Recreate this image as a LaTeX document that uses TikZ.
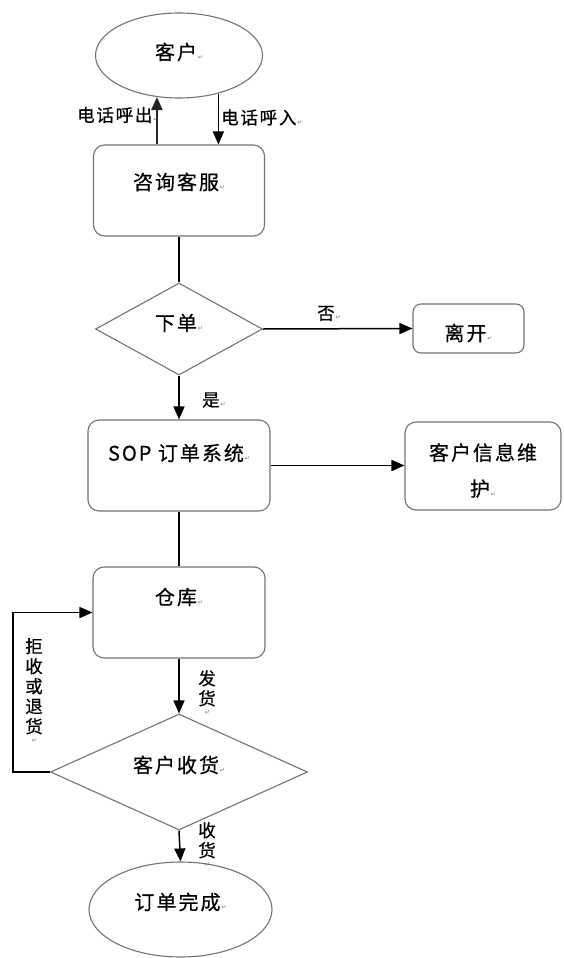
\documentclass[tikz,border=0pt]{standalone}
\usepackage{fontspec}
\setmainfont{Noto Sans CJK SC}[LetterSpace=10,FakeBold=0.5]
\newfontfamily\djv{DejaVu Sans}
\usetikzlibrary{shapes.geometric,arrows.meta,calc}
\newcommand{\pmk}{{\djv\fontsize{6}{6}\selectfont\color{black!55}\,↵}}
\newcommand{\rt}[2]{\raisebox{\dimexpr#1pt-7.6pt\relax}[0pt][0pt]{#2}}
\begin{document}
\begin{tikzpicture}[x=1pt,y=-1pt,
  shp/.style={draw=black!55,line width=1.1pt,inner sep=0pt,font=\fontsize{20}{24}\selectfont},
  ell/.style={shp,ellipse},
  rbox/.style={shp,rectangle,rounded corners=11pt},
  dia/.style={shp,diamond},
  conn/.style={line width=1.5pt,black},
  arr/.style={conn,-{Triangle[length=13pt,width=11pt]}},
  lab/.style={inner sep=0pt,font=\fontsize{17.5}{20}\selectfont},
  vlab/.style={inner sep=0pt,align=center,font=\fontsize{17.5}{20}\selectfont}]
\useasboundingbox (0,0) rectangle (563,958);
\fill[white] (0,0) rectangle (563,958);
% nodes
\node[ell,minimum width=167pt,minimum height=85pt] (c1) at (179,55.5) {\rt{3.5}{客户\pmk}};
\node[rbox,minimum width=171pt,minimum height=91pt] (b1) at (179,190.5) {\rt{8.5}{咨询客服\pmk}};
\node[dia,minimum width=167pt,minimum height=92pt] (d1) at (179,329) {\rt{6}{下单\pmk}};
\node[rbox,rounded corners=8pt,minimum width=111pt,minimum height=49pt] (lv) at (468.5,328.5) {\rt{-4.5}{离开\pmk}};
\node[rbox,minimum width=182pt,minimum height=91pt] (sop) at (179,465.5) {\rt{12.5}{SOP 订单系统\pmk}};
\node[rbox,minimum width=156pt,minimum height=88pt,
  label={[name=infot,inner sep=0pt,align=center,font=\fontsize{20}{36}\selectfont,yshift=-4.5pt]center:客户信息维\\护\pmk}] (info) at (483,466) {};
\node[rbox,minimum width=172pt,minimum height=91pt] (wh) at (179,612.5) {\rt{15.5}{仓库\pmk}};
\node[dia,minimum width=257pt,minimum height=116pt] (d2) at (179,772) {\rt{7}{客户收货\pmk}};
\node[ell,minimum width=183pt,minimum height=95pt] (e2) at (180.5,909.5) {\rt{7.5}{订单完成\pmk}};
% labels
\node[lab,anchor=west] (lout) at (77,115) {电话呼出\pmk};
\node[lab,anchor=west] (lin) at (221,117.5) {电话呼入\pmk};
\node[lab,anchor=west] (lno) at (317,313.5) {否\pmk};
\node[lab,anchor=west] (lyes) at (202,400) {是\pmk};
\node[vlab,anchor=north] (lship) at (207,670) {发\\货\\[-10pt]\pmk};
\node[vlab,anchor=north] (lrej) at (34,638) {拒\\收\\或\\退\\货\\[-10pt]\pmk};
\node[vlab,anchor=north] (lrec) at (207,822) {收\\货\\[-10pt]\pmk};
% connectors
\draw[arr,line width=2pt,black!85] (b1.north -| c1.242.4) -- (c1.242.4);
\draw[arr] (c1.316.5) -- (b1.north -| c1.316.5);
\draw[conn] (b1.south) -- (d1.north);
\draw[arr] (d1.east) -- (lv.west);
\draw[arr] (d1.south) -- (sop.north);
\draw[arr] (sop.east) -- (sop.east -| info.west);
\draw[conn] (sop.south) -- (wh.north);
\draw[arr] (wh.south) -- (d2.north);
\coordinate (lp) at (13,772);
\draw[arr] (d2.west) -- (lp) |- (wh.west);
\draw[arr] (d2.south) -- (e2.north);
\end{tikzpicture}
\end{document}
